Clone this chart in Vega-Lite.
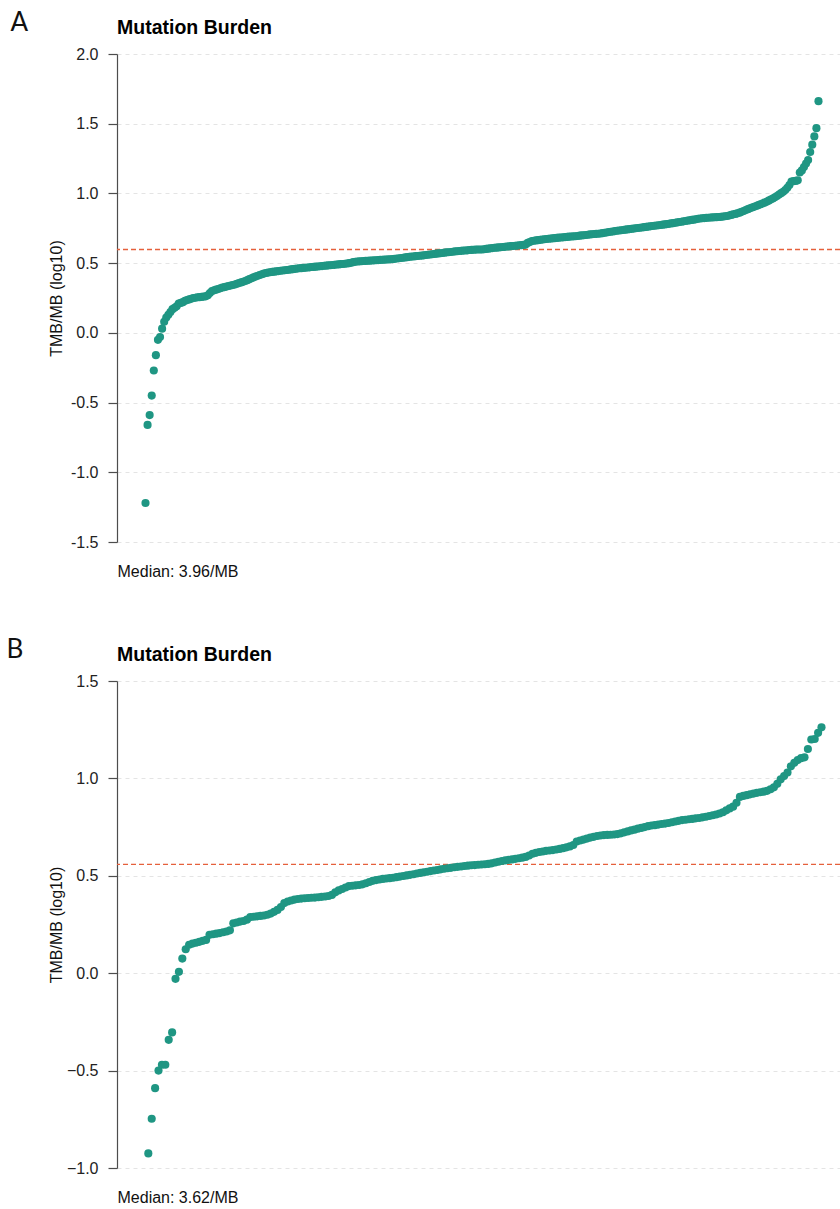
{
"$schema": "https://vega.github.io/schema/vega-lite/v6.json",
"background": "white",
"padding": {"left": 6, "top": 9, "right": 0, "bottom": 0},
"autosize": {"type": "pad"},
"config": {
  "font": "Liberation Sans",
  "view": {"stroke": null},
  "axis": {"labelFont": "Liberation Sans", "titleFont": "Liberation Sans"}
},
"spacing": 57,
"datasets": {
"a": [
{"i":1,"v":-1.22},{"i":2,"v":-0.66},{"i":3,"v":-0.59},{"i":4,"v":-0.45},{"i":5,"v":-0.27},{"i":6,"v":-0.16},{"i":7,"v":-0.05},{"i":8,"v":-0.03},{"i":9,"v":0.03},{"i":10,"v":0.08},
{"i":11,"v":0.11},{"i":12,"v":0.13},{"i":13,"v":0.15},{"i":14,"v":0.17},{"i":15,"v":0.18},{"i":16,"v":0.19},{"i":17,"v":0.21},{"i":18,"v":0.215},{"i":19,"v":0.22},{"i":20,"v":0.23},
{"i":21,"v":0.235},{"i":22,"v":0.24},{"i":23,"v":0.245},{"i":24,"v":0.25},{"i":25,"v":0.252},{"i":26,"v":0.255},{"i":27,"v":0.256},{"i":28,"v":0.258},{"i":29,"v":0.26},{"i":30,"v":0.262},
{"i":31,"v":0.27},{"i":32,"v":0.285},{"i":33,"v":0.3},{"i":34,"v":0.305},{"i":35,"v":0.31},{"i":36,"v":0.315},{"i":37,"v":0.32},{"i":38,"v":0.325},{"i":39,"v":0.328},{"i":40,"v":0.332},
{"i":41,"v":0.336},{"i":42,"v":0.34},{"i":43,"v":0.343},{"i":44,"v":0.347},{"i":45,"v":0.352},{"i":46,"v":0.357},{"i":47,"v":0.362},{"i":48,"v":0.366},{"i":49,"v":0.372},{"i":50,"v":0.378},
{"i":51,"v":0.385},{"i":52,"v":0.392},{"i":53,"v":0.398},{"i":54,"v":0.404},{"i":55,"v":0.41},{"i":56,"v":0.415},{"i":57,"v":0.42},{"i":58,"v":0.425},{"i":59,"v":0.429},{"i":60,"v":0.432},
{"i":61,"v":0.435},{"i":62,"v":0.437},{"i":63,"v":0.439},{"i":64,"v":0.441},{"i":65,"v":0.443},{"i":66,"v":0.445},{"i":67,"v":0.447},{"i":68,"v":0.449},{"i":69,"v":0.451},{"i":70,"v":0.453},
{"i":71,"v":0.455},{"i":72,"v":0.457},{"i":73,"v":0.459},{"i":74,"v":0.461},{"i":75,"v":0.463},{"i":76,"v":0.464},{"i":77,"v":0.466},{"i":78,"v":0.467},{"i":79,"v":0.469},{"i":80,"v":0.47},
{"i":81,"v":0.472},{"i":82,"v":0.473},{"i":83,"v":0.475},{"i":84,"v":0.476},{"i":85,"v":0.478},{"i":86,"v":0.479},{"i":87,"v":0.481},{"i":88,"v":0.482},{"i":89,"v":0.484},{"i":90,"v":0.485},
{"i":91,"v":0.487},{"i":92,"v":0.488},{"i":93,"v":0.49},{"i":94,"v":0.491},{"i":95,"v":0.493},{"i":96,"v":0.494},{"i":97,"v":0.496},{"i":98,"v":0.497},{"i":99,"v":0.5},{"i":100,"v":0.503},
{"i":101,"v":0.507},{"i":102,"v":0.51},{"i":103,"v":0.512},{"i":104,"v":0.513},{"i":105,"v":0.514},{"i":106,"v":0.515},{"i":107,"v":0.516},{"i":108,"v":0.517},{"i":109,"v":0.518},{"i":110,"v":0.519},
{"i":111,"v":0.52},{"i":112,"v":0.521},{"i":113,"v":0.522},{"i":114,"v":0.523},{"i":115,"v":0.524},{"i":116,"v":0.525},{"i":117,"v":0.526},{"i":118,"v":0.527},{"i":119,"v":0.528},{"i":120,"v":0.529},
{"i":121,"v":0.531},{"i":122,"v":0.533},{"i":123,"v":0.535},{"i":124,"v":0.537},{"i":125,"v":0.539},{"i":126,"v":0.541},{"i":127,"v":0.543},{"i":128,"v":0.545},{"i":129,"v":0.547},{"i":130,"v":0.548},
{"i":131,"v":0.55},{"i":132,"v":0.551},{"i":133,"v":0.553},{"i":134,"v":0.554},{"i":135,"v":0.556},{"i":136,"v":0.558},{"i":137,"v":0.56},{"i":138,"v":0.562},{"i":139,"v":0.564},{"i":140,"v":0.566},
{"i":141,"v":0.568},{"i":142,"v":0.57},{"i":143,"v":0.571},{"i":144,"v":0.573},{"i":145,"v":0.575},{"i":146,"v":0.577},{"i":147,"v":0.578},{"i":148,"v":0.58},{"i":149,"v":0.582},{"i":150,"v":0.584},
{"i":151,"v":0.585},{"i":152,"v":0.587},{"i":153,"v":0.588},{"i":154,"v":0.59},{"i":155,"v":0.591},{"i":156,"v":0.592},{"i":157,"v":0.594},{"i":158,"v":0.595},{"i":159,"v":0.596},{"i":160,"v":0.597},
{"i":161,"v":0.598},{"i":162,"v":0.598},{"i":163,"v":0.598},{"i":164,"v":0.6},{"i":165,"v":0.602},{"i":166,"v":0.604},{"i":167,"v":0.606},{"i":168,"v":0.608},{"i":169,"v":0.61},{"i":170,"v":0.611},
{"i":171,"v":0.613},{"i":172,"v":0.614},{"i":173,"v":0.616},{"i":174,"v":0.617},{"i":175,"v":0.619},{"i":176,"v":0.62},{"i":177,"v":0.622},{"i":178,"v":0.623},{"i":179,"v":0.625},{"i":180,"v":0.626},
{"i":181,"v":0.628},{"i":182,"v":0.629},{"i":183,"v":0.631},{"i":184,"v":0.633},{"i":185,"v":0.645},{"i":186,"v":0.652},{"i":187,"v":0.658},{"i":188,"v":0.661},{"i":189,"v":0.663},{"i":190,"v":0.665},
{"i":191,"v":0.667},{"i":192,"v":0.669},{"i":193,"v":0.671},{"i":194,"v":0.673},{"i":195,"v":0.675},{"i":196,"v":0.676},{"i":197,"v":0.678},{"i":198,"v":0.679},{"i":199,"v":0.681},{"i":200,"v":0.683},
{"i":201,"v":0.684},{"i":202,"v":0.685},{"i":203,"v":0.687},{"i":204,"v":0.688},{"i":205,"v":0.69},{"i":206,"v":0.691},{"i":207,"v":0.692},{"i":208,"v":0.693},{"i":209,"v":0.695},{"i":210,"v":0.697},
{"i":211,"v":0.699},{"i":212,"v":0.7},{"i":213,"v":0.702},{"i":214,"v":0.704},{"i":215,"v":0.706},{"i":216,"v":0.707},{"i":217,"v":0.709},{"i":218,"v":0.71},{"i":219,"v":0.711},{"i":220,"v":0.713},
{"i":221,"v":0.715},{"i":222,"v":0.718},{"i":223,"v":0.72},{"i":224,"v":0.723},{"i":225,"v":0.725},{"i":226,"v":0.727},{"i":227,"v":0.73},{"i":228,"v":0.732},{"i":229,"v":0.734},{"i":230,"v":0.736},
{"i":231,"v":0.738},{"i":232,"v":0.74},{"i":233,"v":0.742},{"i":234,"v":0.744},{"i":235,"v":0.746},{"i":236,"v":0.748},{"i":237,"v":0.75},{"i":238,"v":0.752},{"i":239,"v":0.754},{"i":240,"v":0.756},
{"i":241,"v":0.758},{"i":242,"v":0.76},{"i":243,"v":0.762},{"i":244,"v":0.764},{"i":245,"v":0.766},{"i":246,"v":0.768},{"i":247,"v":0.77},{"i":248,"v":0.772},{"i":249,"v":0.774},{"i":250,"v":0.776},
{"i":251,"v":0.778},{"i":252,"v":0.78},{"i":253,"v":0.782},{"i":254,"v":0.785},{"i":255,"v":0.787},{"i":256,"v":0.79},{"i":257,"v":0.792},{"i":258,"v":0.795},{"i":259,"v":0.797},{"i":260,"v":0.8},
{"i":261,"v":0.802},{"i":262,"v":0.805},{"i":263,"v":0.807},{"i":264,"v":0.81},{"i":265,"v":0.812},{"i":266,"v":0.815},{"i":267,"v":0.818},{"i":268,"v":0.82},{"i":269,"v":0.822},{"i":270,"v":0.823},
{"i":271,"v":0.825},{"i":272,"v":0.826},{"i":273,"v":0.827},{"i":274,"v":0.828},{"i":275,"v":0.829},{"i":276,"v":0.83},{"i":277,"v":0.831},{"i":278,"v":0.832},{"i":279,"v":0.834},{"i":280,"v":0.836},
{"i":281,"v":0.838},{"i":282,"v":0.842},{"i":283,"v":0.846},{"i":284,"v":0.85},{"i":285,"v":0.853},{"i":286,"v":0.857},{"i":287,"v":0.862},{"i":288,"v":0.868},{"i":289,"v":0.874},{"i":290,"v":0.881},
{"i":291,"v":0.887},{"i":292,"v":0.893},{"i":293,"v":0.899},{"i":294,"v":0.904},{"i":295,"v":0.91},{"i":296,"v":0.916},{"i":297,"v":0.922},{"i":298,"v":0.928},{"i":299,"v":0.934},{"i":300,"v":0.94},
{"i":301,"v":0.948},{"i":302,"v":0.956},{"i":303,"v":0.964},{"i":304,"v":0.972},{"i":305,"v":0.982},{"i":306,"v":0.992},{"i":307,"v":1.002},{"i":308,"v":1.012},{"i":309,"v":1.025},{"i":310,"v":1.04},
{"i":311,"v":1.06},{"i":312,"v":1.085},{"i":313,"v":1.088},{"i":314,"v":1.09},{"i":315,"v":1.094},{"i":316,"v":1.15},{"i":317,"v":1.165},{"i":318,"v":1.19},{"i":319,"v":1.215},{"i":320,"v":1.24},
{"i":321,"v":1.297},{"i":322,"v":1.35},{"i":323,"v":1.409},{"i":324,"v":1.468},{"i":325,"v":1.662}
],
"b": [
{"i":1,"v":-0.925},{"i":2,"v":-0.747},{"i":3,"v":-0.59},{"i":4,"v":-0.5},{"i":5,"v":-0.47},{"i":6,"v":-0.47},{"i":7,"v":-0.342},{"i":8,"v":-0.304},{"i":9,"v":-0.029},{"i":10,"v":0.007},
{"i":11,"v":0.075},{"i":12,"v":0.123},{"i":13,"v":0.146},{"i":14,"v":0.152},{"i":15,"v":0.156},{"i":16,"v":0.161},{"i":17,"v":0.166},{"i":18,"v":0.171},{"i":19,"v":0.197},{"i":20,"v":0.2},
{"i":21,"v":0.203},{"i":22,"v":0.206},{"i":23,"v":0.21},{"i":24,"v":0.214},{"i":25,"v":0.22},{"i":26,"v":0.256},{"i":27,"v":0.26},{"i":28,"v":0.265},{"i":29,"v":0.268},{"i":30,"v":0.275},
{"i":31,"v":0.288},{"i":32,"v":0.29},{"i":33,"v":0.292},{"i":34,"v":0.294},{"i":35,"v":0.296},{"i":36,"v":0.3},{"i":37,"v":0.306},{"i":38,"v":0.315},{"i":39,"v":0.325},{"i":40,"v":0.34},
{"i":41,"v":0.36},{"i":42,"v":0.368},{"i":43,"v":0.373},{"i":44,"v":0.378},{"i":45,"v":0.381},{"i":46,"v":0.383},{"i":47,"v":0.385},{"i":48,"v":0.386},{"i":49,"v":0.387},{"i":50,"v":0.388},
{"i":51,"v":0.39},{"i":52,"v":0.392},{"i":53,"v":0.394},{"i":54,"v":0.396},{"i":55,"v":0.402},{"i":56,"v":0.415},{"i":57,"v":0.425},{"i":58,"v":0.432},{"i":59,"v":0.44},{"i":60,"v":0.447},
{"i":61,"v":0.449},{"i":62,"v":0.451},{"i":63,"v":0.453},{"i":64,"v":0.456},{"i":65,"v":0.462},{"i":66,"v":0.468},{"i":67,"v":0.474},{"i":68,"v":0.478},{"i":69,"v":0.481},{"i":70,"v":0.484},
{"i":71,"v":0.486},{"i":72,"v":0.488},{"i":73,"v":0.49},{"i":74,"v":0.493},{"i":75,"v":0.496},{"i":76,"v":0.499},{"i":77,"v":0.502},{"i":78,"v":0.505},{"i":79,"v":0.508},{"i":80,"v":0.512},
{"i":81,"v":0.515},{"i":82,"v":0.518},{"i":83,"v":0.521},{"i":84,"v":0.524},{"i":85,"v":0.527},{"i":86,"v":0.53},{"i":87,"v":0.533},{"i":88,"v":0.536},{"i":89,"v":0.539},{"i":90,"v":0.541},
{"i":91,"v":0.544},{"i":92,"v":0.546},{"i":93,"v":0.548},{"i":94,"v":0.55},{"i":95,"v":0.552},{"i":96,"v":0.554},{"i":97,"v":0.555},{"i":98,"v":0.557},{"i":99,"v":0.558},{"i":100,"v":0.559},
{"i":101,"v":0.561},{"i":102,"v":0.564},{"i":103,"v":0.568},{"i":104,"v":0.572},{"i":105,"v":0.576},{"i":106,"v":0.579},{"i":107,"v":0.582},{"i":108,"v":0.584},{"i":109,"v":0.587},{"i":110,"v":0.59},
{"i":111,"v":0.593},{"i":112,"v":0.597},{"i":113,"v":0.604},{"i":114,"v":0.613},{"i":115,"v":0.618},{"i":116,"v":0.622},{"i":117,"v":0.625},{"i":118,"v":0.628},{"i":119,"v":0.63},{"i":120,"v":0.632},
{"i":121,"v":0.635},{"i":122,"v":0.638},{"i":123,"v":0.642},{"i":124,"v":0.646},{"i":125,"v":0.651},{"i":126,"v":0.658},{"i":127,"v":0.676},{"i":128,"v":0.681},{"i":129,"v":0.686},{"i":130,"v":0.691},
{"i":131,"v":0.696},{"i":132,"v":0.7},{"i":133,"v":0.704},{"i":134,"v":0.707},{"i":135,"v":0.709},{"i":136,"v":0.71},{"i":137,"v":0.711},{"i":138,"v":0.712},{"i":139,"v":0.714},{"i":140,"v":0.718},
{"i":141,"v":0.723},{"i":142,"v":0.728},{"i":143,"v":0.733},{"i":144,"v":0.737},{"i":145,"v":0.742},{"i":146,"v":0.746},{"i":147,"v":0.75},{"i":148,"v":0.755},{"i":149,"v":0.758},{"i":150,"v":0.76},
{"i":151,"v":0.763},{"i":152,"v":0.766},{"i":153,"v":0.768},{"i":154,"v":0.771},{"i":155,"v":0.775},{"i":156,"v":0.779},{"i":157,"v":0.782},{"i":158,"v":0.786},{"i":159,"v":0.788},{"i":160,"v":0.79},
{"i":161,"v":0.792},{"i":162,"v":0.795},{"i":163,"v":0.797},{"i":164,"v":0.8},{"i":165,"v":0.803},{"i":166,"v":0.807},{"i":167,"v":0.811},{"i":168,"v":0.815},{"i":169,"v":0.82},{"i":170,"v":0.826},
{"i":171,"v":0.836},{"i":172,"v":0.846},{"i":173,"v":0.855},{"i":174,"v":0.875},{"i":175,"v":0.905},{"i":176,"v":0.91},{"i":177,"v":0.914},{"i":178,"v":0.918},{"i":179,"v":0.922},{"i":180,"v":0.926},
{"i":181,"v":0.929},{"i":182,"v":0.932},{"i":183,"v":0.936},{"i":184,"v":0.944},{"i":185,"v":0.954},{"i":186,"v":0.972},{"i":187,"v":0.995},{"i":188,"v":1.012},{"i":189,"v":1.03},{"i":190,"v":1.062},
{"i":191,"v":1.08},{"i":192,"v":1.094},{"i":193,"v":1.104},{"i":194,"v":1.108},{"i":195,"v":1.151},{"i":196,"v":1.2},{"i":197,"v":1.202},{"i":198,"v":1.234},{"i":199,"v":1.262}
]
},
"vconcat": [
{
  "title": {"text": "A", "anchor": "start", "frame": "bounds", "font": "Lato", "fontSize": 26, "fontWeight": "normal", "color": "#111", "offset": -18, "dx": -38},
  "vconcat": [
  {
    "width": 723, "height": 488,
    "title": {"text": "Mutation Burden", "anchor": "start", "frame": "group", "font": "Liberation Sans", "fontSize": 19.5, "fontWeight": "bold", "color": "#000", "offset": 8},
    "layer": [
      {
        "data": {"values": [{"m": 0.598}]},
        "mark": {"type": "rule", "color": "#e5603c", "strokeDash": [5, 3], "strokeWidth": 1.3},
        "encoding": {"y": {"field": "m", "type": "quantitative", "title": "TMB/MB (log10)"}}
      },
      {
        "data": {"name": "a"},
        "mark": {"type": "circle", "size": 66, "color": "#1f9683", "opacity": 1},
        "encoding": {
          "x": {"field": "i", "type": "quantitative", "scale": {"domain": [-12.72, 335.35], "nice": false, "zero": false},
                "axis": {"orient": "bottom", "domain": false, "ticks": false, "labels": false, "grid": false, "title": "Median: 3.96/MB", "titleAnchor": "start", "titleFontWeight": "normal", "titleFontSize": 16, "titleColor": "#111", "titlePadding": 21}},
          "y": {"field": "v", "type": "quantitative", "title": "TMB/MB (log10)", "scale": {"domain": [-1.5, 2], "nice": false, "zero": false},
                "axis": {"values": [-1.5, -1, -0.5, 0, 0.5, 1, 1.5, 2], "labelExpr": "datum.value < 0 ? '-' + format(-datum.value, '.1f') : format(datum.value, '.1f')", "grid": true, "gridColor": "#e4e4e4", "gridDash": [4, 4], "gridWidth": 1, "domainColor": "#4d4d4d", "domainWidth": 1.2, "tickColor": "#4d4d4d", "tickSize": 9, "tickWidth": 1.2, "labelFontSize": 16, "labelColor": "#222", "labelPadding": 10, "titleFontSize": 16, "titleFontWeight": "normal", "titleColor": "#111", "titlePadding": 6}}
        }
      }
    ]
  }
  ]
},
{
  "title": {"text": "B", "anchor": "start", "frame": "bounds", "font": "Lato", "fontSize": 26, "fontWeight": "normal", "color": "#111", "offset": -18, "dx": -42},
  "vconcat": [
  {
    "width": 723, "height": 487,
    "title": {"text": "Mutation Burden", "anchor": "start", "frame": "group", "font": "Liberation Sans", "fontSize": 19.5, "fontWeight": "bold", "color": "#000", "offset": 8},
    "layer": [
      {
        "data": {"values": [{"m": 0.559}]},
        "mark": {"type": "rule", "color": "#e5603c", "strokeDash": [5, 3], "strokeWidth": 1.3},
        "encoding": {"y": {"field": "m", "type": "quantitative", "title": "TMB/MB (log10)"}}
      },
      {
        "data": {"name": "b"},
        "mark": {"type": "circle", "size": 66, "color": "#1f9683", "opacity": 1},
        "encoding": {
          "x": {"field": "i", "type": "quantitative", "scale": {"domain": [-8.21, 204.44], "nice": false, "zero": false},
                "axis": {"orient": "bottom", "domain": false, "ticks": false, "labels": false, "grid": false, "title": "Median: 3.62/MB", "titleAnchor": "start", "titleFontWeight": "normal", "titleFontSize": 16, "titleColor": "#111", "titlePadding": 21}},
          "y": {"field": "v", "type": "quantitative", "title": "TMB/MB (log10)", "scale": {"domain": [-1, 1.5], "nice": false, "zero": false},
                "axis": {"values": [-1, -0.5, 0, 0.5, 1, 1.5], "format": ".1f", "grid": true, "gridColor": "#e4e4e4", "gridDash": [4, 4], "gridWidth": 1, "domainColor": "#4d4d4d", "domainWidth": 1.2, "tickColor": "#4d4d4d", "tickSize": 9, "tickWidth": 1.2, "labelFontSize": 16, "labelColor": "#222", "labelPadding": 10, "titleFontSize": 16, "titleFontWeight": "normal", "titleColor": "#111", "titlePadding": 2}}
        }
      }
    ]
  }
  ]
}
]
}
